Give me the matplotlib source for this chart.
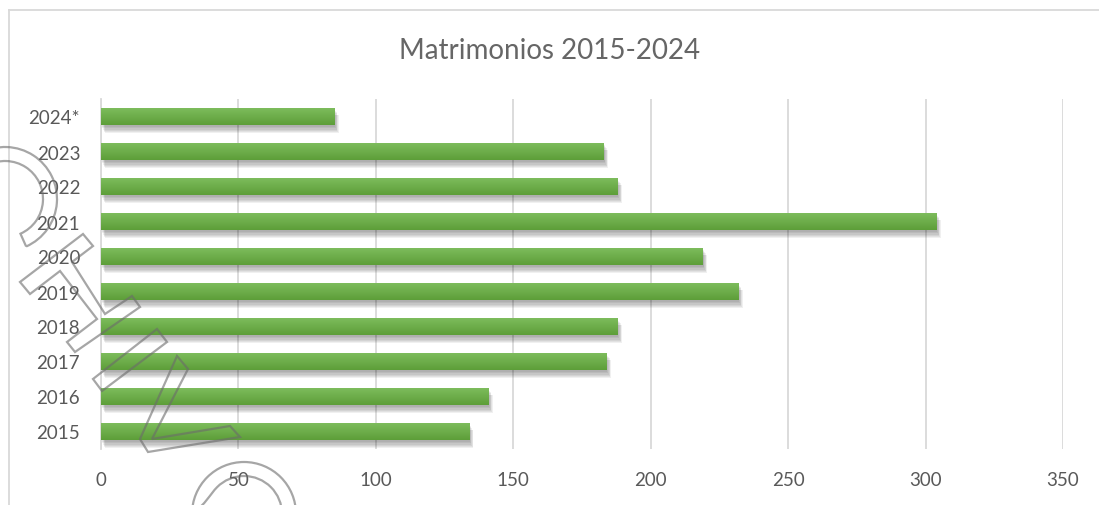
import matplotlib
matplotlib.use("Agg")
import matplotlib.pyplot as plt
import numpy as np
from matplotlib import patheffects as pe
from matplotlib.patches import Polygon, Wedge
from matplotlib.transforms import IdentityTransform
from matplotlib.lines import Line2D
from matplotlib.colors import LinearSegmentedColormap

# ---- data ----
years = ["2015", "2016", "2017", "2018", "2019", "2020", "2021", "2022", "2023", "2024*"]
values = [134, 141, 184, 188, 232, 219, 304, 188, 183, 85]
xticks = [0, 50, 100, 150, 200, 250, 300, 350]
title = "Matrimonios 2015-2024"

W, H = 1099, 506
fig = plt.figure(figsize=(W / 100, H / 100), dpi=100)
fig.patch.set_facecolor("white")

ax = fig.add_axes([101 / W, 1 - 450 / H, (1063 - 101) / W, 350 / H])

y = np.arange(len(years))
shadow = [pe.SimplePatchShadow(offset=(dx, dy), shadow_rgbFace="black", alpha=0.06)
          for dx, dy in [(0.5, -1.2), (1, -2.2), (1.5, -3.2), (2, -4.0), (2.5, -4.8), (3, -5.4)]]
bars = ax.barh(y, values, height=0.49, color="#6fb04a", zorder=3,
               path_effects=shadow + [pe.Normal()])

# vertical gradient on each bar (lighter on top, darker at bottom)
grad = np.linspace(0, 1, 64).reshape(-1, 1)
cmap = LinearSegmentedColormap.from_list("g", ["#7fbe5e", "#5d9e39"])
for b in bars:
    x0, y0, w, h = b.get_x(), b.get_y(), b.get_width(), b.get_height()
    im = ax.imshow(grad, extent=[x0, x0 + w, y0, y0 + h], origin="upper", cmap=cmap,
                   aspect="auto", zorder=4, interpolation="bilinear")
    im.set_clip_path(b)
ax.set_xlim(0, 350)
ax.set_ylim(-0.5, len(years) - 0.5)

ax.set_yticks(y)
ax.set_yticklabels(years)
ax.set_xticks(xticks)
ax.set_xticklabels([str(t) for t in xticks])
ax.tick_params(axis="both", length=0, labelsize=13.5, labelcolor="#595959")
ax.tick_params(axis="x", pad=16)
ax.tick_params(axis="y", pad=15)
for lab in ax.get_xticklabels() + ax.get_yticklabels():
    lab.set_fontfamily("Lato")
ax.grid(axis="x", color="#d9d9d9", linewidth=1.3, zorder=0)
ax.set_axisbelow(True)
for s in ["top", "right", "bottom"]:
    ax.spines[s].set_visible(False)
ax.spines["left"].set_color("#d9d9d9")
ax.spines["left"].set_linewidth(1.3)

fig.text(550 / W, 1 - 51 / H, title, ha="center", va="center", fontsize=20,
         color="#666666", family="Lato")

# chart area border
fig.add_artist(Line2D([9 / W, 9 / W], [0, 1 - 11 / H], transform=fig.transFigure,
                      color="#d9d9d9", lw=1.3))
fig.add_artist(Line2D([9 / W, 1.0], [1 - 11 / H, 1 - 11 / H], transform=fig.transFigure,
                      color="#d9d9d9", lw=1.3))

# watermark outline shapes (pixel coordinates, y from top)
def P(pts):
    return [(px, H - py) for px, py in pts]

wm = dict(fill=False, edgecolor=(0.42, 0.42, 0.42), alpha=0.6, lw=1.6,
          transform=IdentityTransform(), zorder=10)
shapes = [
    Wedge((5, H - 200), 52, -66, 180, width=14, **wm),
    Wedge((244, H - 515), 52, 0, 180, width=14, **wm),
    Polygon(P([(20, 283), (83, 235), (93, 247), (72, 263), (105, 315), (132, 297),
               (140, 308), (75, 353), (67, 343), (97, 320), (60, 272), (30, 295)]), closed=True, **wm),
    Polygon(P([(93, 380), (157, 330), (167, 343), (102, 392)]), closed=True, **wm),
    Polygon(P([(177, 357), (188, 370), (152, 440), (230, 427), (240, 438), (148, 453),
               (140, 440)]), closed=True, **wm),
]
for s in shapes:
    fig.add_artist(s)

fig.savefig("out.png", dpi=100)
